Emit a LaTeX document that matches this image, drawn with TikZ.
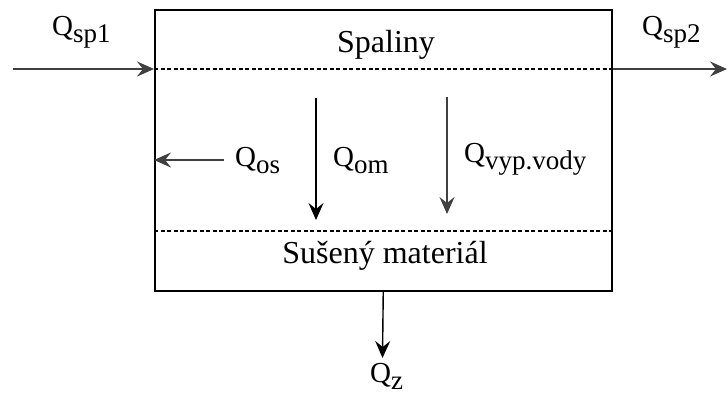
\documentclass[tikz,border=0pt]{standalone}
\usepackage{fontspec}
\setmainfont{Liberation Serif}
\usetikzlibrary{arrows.meta}
\usetikzlibrary{positioning}

\tikzset{
  flow/.style={-{Stealth[length=17pt,width=15pt,inset=6pt]}, line width=1.4pt},
  sep/.style={dash pattern=on 4pt off 2.5pt, line width=1.1pt},
  lbl/.style={anchor=base west, inner sep=0pt, font=\fontsize{29}{33}\selectfont},
  zone/.style={anchor=base, inner sep=0pt, font=\fontsize{32}{36}\selectfont},
}
\newcommand{\qsub}[1]{Q\raisebox{-7pt}{\fontsize{27}{31}\selectfont #1}}

\begin{document}
\begin{tikzpicture}[x=1pt,y=-1pt]
  \useasboundingbox (0,0) rectangle (728,394);
  \node[draw, line width=1.5pt, minimum width=457pt, minimum height=281pt,
        inner sep=0pt, anchor=north west] (dryer) at (154,9) {};
  % zones
  \coordinate (gasL) at ([yshift=-60pt]dryer.north west);
  \coordinate (gasR) at ([yshift=-60pt]dryer.north east);
  \coordinate (matL) at ([yshift=-222pt]dryer.north west);
  \coordinate (matR) at ([yshift=-222pt]dryer.north east);
  \draw[sep] (gasL) -- (gasR);
  \draw[sep] (matL) -- (matR);
  \node[zone] (spaliny) at (386,52) {Spaliny};
  \node[zone] (susmat) at (385,263) {Sušený materiál};
  % flows
  \coordinate (in) at (13,69);
  \coordinate (out) at (727,69);
  \coordinate (os) at (224,160);
  \coordinate (om1) at (316,98);
  \coordinate (om2) at (316,220);
  \coordinate (vyp1) at (447,97);
  \coordinate (vyp2) at (447,214);
  \coordinate (z) at (382.5,358);
  \draw[flow, black!75] (in) -- (gasL);
  \draw[flow, black!75] (gasR) -- (out);
  \draw[flow, black!75] (os) -- (dryer.west |- os);
  \draw[flow] (om1) -- (om2);
  \draw[flow, black!75] (vyp1) -- (vyp2);
  \draw[flow] (dryer.south) -- (z);
  % labels
  \node[lbl] (qsp1) at (52,35) {\qsub{sp1}};
  \node[lbl] (qsp2) at (642,35) {\qsub{sp2}};
  \node[lbl] (qos) at (235,166) {\qsub{os}};
  \node[lbl] (qom) at (333,166) {\qsub{om}};
  \node[lbl] (qvyp) at (464,162) {\qsub{vyp.vody}};
  \node[lbl] (qz) at (370,382) {\qsub{z}};
\end{tikzpicture}
\end{document}
